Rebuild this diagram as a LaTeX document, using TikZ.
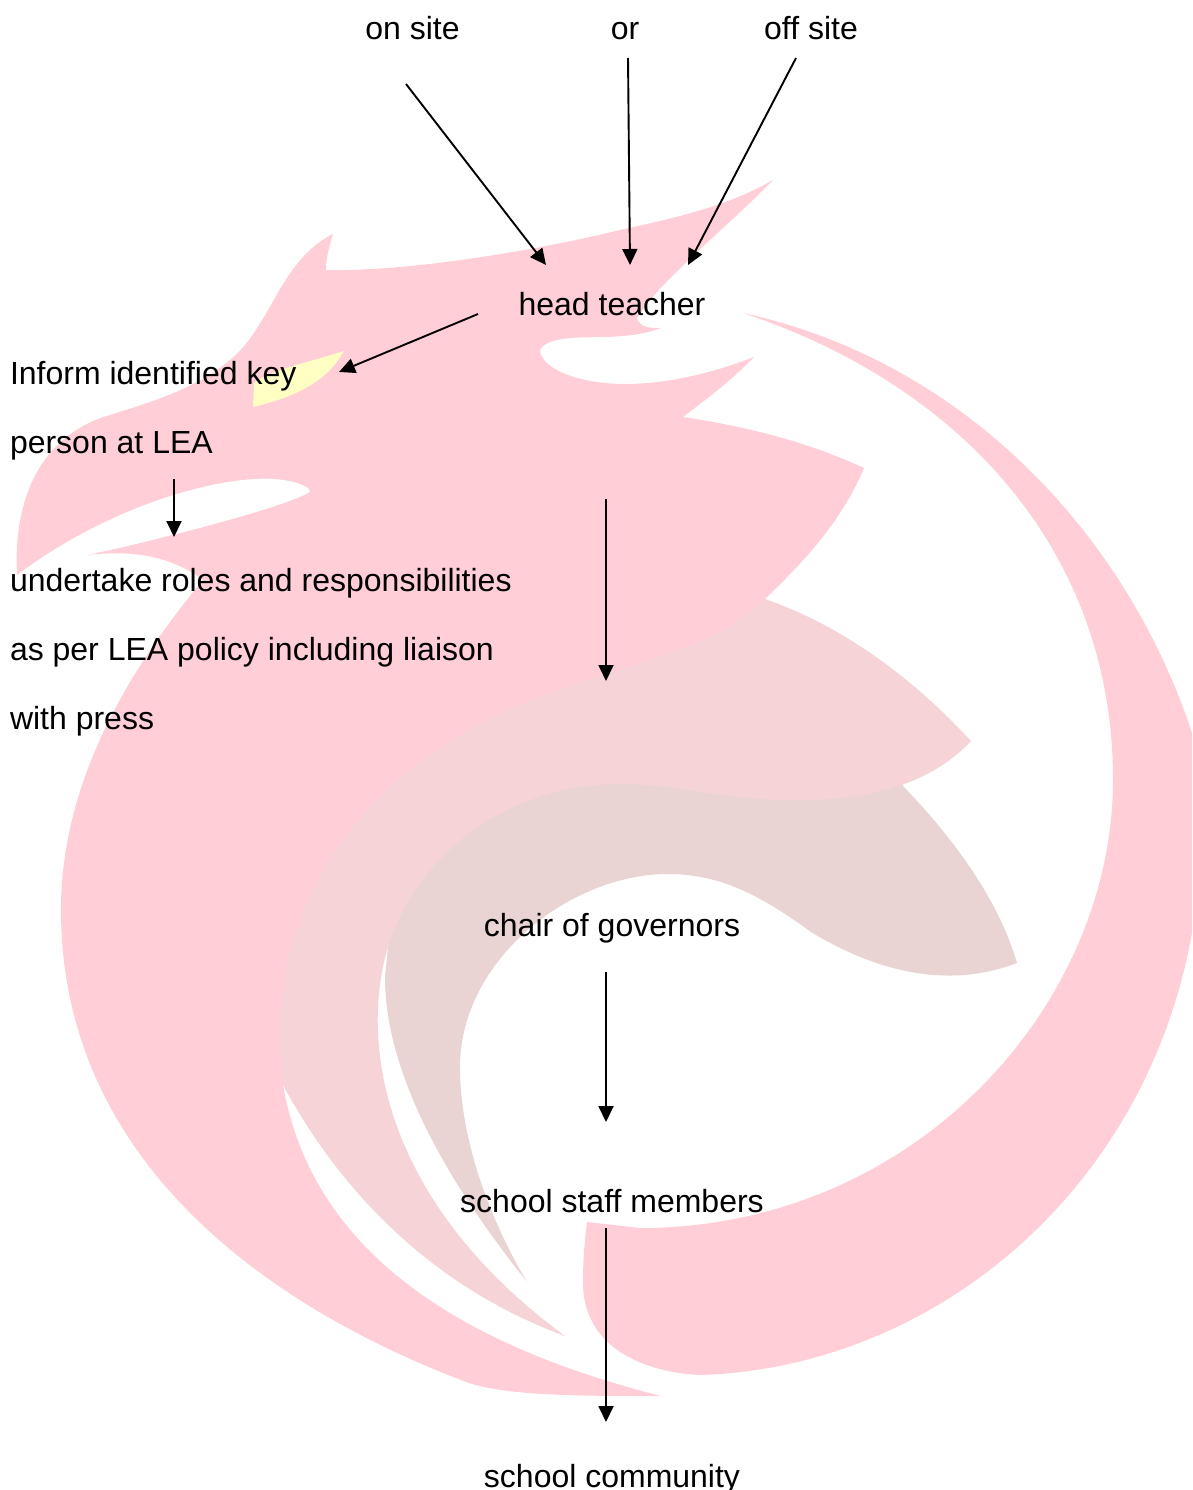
\documentclass[tikz,border=0pt]{standalone}
\usepackage{fontspec}
\setmainfont{Liberation Sans}
\usetikzlibrary{arrows.meta}
\definecolor{dragonpink}{HTML}{FFCED6}
\definecolor{winglight}{HTML}{F5D3D6}
\definecolor{wingdark}{HTML}{E9D3D3}
\definecolor{eyeyellow}{HTML}{FFFFC4}
\tikzset{
  lbl/.style={inner sep=0pt,outer sep=0pt,anchor=base,font=\fontsize{32}{36}\selectfont,text=black},
  lblleft/.style={lbl,anchor=base west},
  conn/.style={draw=black,line width=1.9pt,-{Triangle[length=16pt,width=15pt]}}
}
\begin{document}
\begin{tikzpicture}[x=1pt,y=-1pt]
\useasboundingbox (0,0) rectangle (1192,1490);
% dragon head and body
\fill[dragonpink]
  (333,234) .. controls (328,250) and (326,260) .. (326,270)
  .. controls (420,272) and (560,245) .. (620,230)
  .. controls (680,217) and (730,205) .. (773,180)
  .. controls (730,225) and (660,280) .. (637,318)
  .. controls (640,328) and (650,328) .. (661,328)
  .. controls (630,340) and (590,336) .. (570,338)
  .. controls (550,340) and (540,345) .. (540,352)
  .. controls (545,372) and (585,384) .. (625,384)
  .. controls (670,384) and (715,372) .. (754,357)
  .. controls (730,382) and (705,400) .. (683,417)
  .. controls (750,427) and (810,443) .. (864,468)
  .. controls (840,525) and (800,565) .. (765,599)
  -- (770,650) -- (600,720) -- (400,830) -- (320,950) -- (283,1085)
  .. controls (310,1240) and (440,1340) .. (661,1396)
  .. controls (580,1396) and (510,1396) .. (469,1383)
  .. controls (300,1320) and (61,1180) .. (61,910)
  .. controls (61,790) and (120,680) .. (203,580)
  .. controls (170,555) and (130,550) .. (88,555)
  .. controls (180,535) and (290,505) .. (310,492)
  .. controls (310,486) and (295,481) .. (276,479)
  .. controls (220,475) and (110,505) .. (17,575)
  .. controls (13,500) and (40,435) .. (110,415)
  .. controls (150,402) and (215,385) .. (249,340)
  .. controls (275,305) and (290,255) .. (333,234)
  -- cycle;
% right coil
\fill[dragonpink]
  (743,313) .. controls (960,360) and (1125,530) .. (1192,733)
  -- (1192,933)
  .. controls (1145,1195) and (930,1368) .. (700,1375)
  .. controls (640,1372) and (583,1345) .. (583,1283)
  .. controls (583,1255) and (585,1240) .. (587,1222)
  -- (640,1228)
  .. controls (915,1228) and (1113,1005) .. (1113,780)
  .. controls (1113,550) and (960,385) .. (743,313)
  -- cycle;
% dark wing
\fill[wingdark]
  (388,947) .. controls (415,840) and (510,770) .. (622,770)
  -- (903,770) -- (903,786)
  .. controls (960,845) and (1000,905) .. (1017,963)
  .. controls (960,985) and (890,980) .. (811,932)
  .. controls (760,895) and (720,874) .. (668,874)
  .. controls (570,874) and (460,960) .. (460,1067)
  .. controls (460,1140) and (490,1220) .. (527,1282)
  .. controls (470,1210) and (385,1090) .. (385,977)
  -- cycle;
% light wing
\fill[winglight]
  (765,599) .. controls (840,625) and (910,675) .. (971,741)
  .. controls (935,780) and (875,802) .. (790,800)
  .. controls (720,800) and (680,784) .. (622,784)
  .. controls (510,784) and (420,850) .. (388,947)
  .. controls (360,1040) and (380,1200) .. (565,1336)
  .. controls (440,1290) and (345,1200) .. (283,1085)
  .. controls (262,950) and (325,795) .. (505,712)
  .. controls (620,660) and (700,660) .. (765,599)
  -- cycle;
% eye
\fill[eyeyellow]
  (344,351) .. controls (310,362) and (270,370) .. (254,383)
  -- (253,407)
  .. controls (290,398) and (325,385) .. (344,351)
  -- cycle;
% labels
\node[lbl] (onsite) at (412.5,40) {on site};
\node[lbl] (orword) at (625,40) {or};
\node[lbl] (offsite) at (811,40) {off site};
\node[lbl] (head) at (612,315) {head teacher};
\node[lblleft] (inform) at (10,384) {Inform identified key};
\node[lblleft] (person) at (10,453) {person at LEA};
\node[lblleft] (undertake) at (10,591) {undertake roles and responsibilities};
\node[lblleft] (aslea) at (10,660) {as per LEA policy including liaison};
\node[lblleft] (press) at (10,729) {with press};
\node[lbl] (chair) at (612,936) {chair of governors};
\node[lbl] (staff) at (612,1212) {school staff members};
\node[lbl] (community) at (612,1487) {school community};
% connector ends
\coordinate (a1) at (406,84);  \coordinate (a2) at (546,265);
\coordinate (b1) at (628,58);  \coordinate (b2) at (630,265);
\coordinate (c1) at (796,58);  \coordinate (c2) at (688,265);
\coordinate (d1) at (478,314); \coordinate (d2) at (339,372);
\coordinate (e1) at (174,479); \coordinate (e2) at (174,537);
\coordinate (f1) at (606,499); \coordinate (f2) at (606,681);
\coordinate (g1) at (606,972); \coordinate (g2) at (606,1122);
\coordinate (h1) at (606,1228);\coordinate (h2) at (606,1422);
\draw[conn] (a1) -- (a2);
\draw[conn] (b1) -- (b2);
\draw[conn] (c1) -- (c2);
\draw[conn] (d1) -- (d2);
\draw[conn] (e1) -- (e2);
\draw[conn] (f1) -- (f2);
\draw[conn] (g1) -- (g2);
\draw[conn] (h1) -- (h2);
\end{tikzpicture}
\end{document}
